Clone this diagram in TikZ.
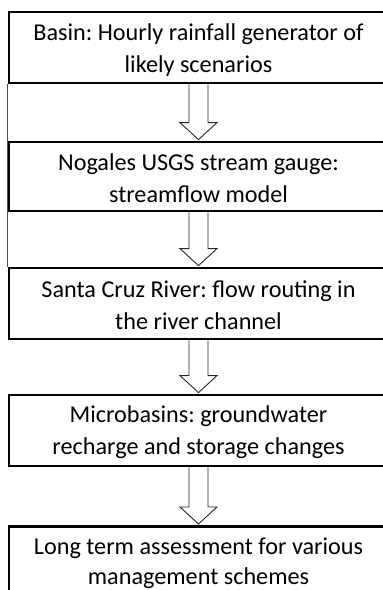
\documentclass[tikz,border=0pt]{standalone}
\usepackage{fontspec}
\setmainfont{Carlito}
\usetikzlibrary{calc}
\frenchspacing
\begin{document}
\frenchspacing
\begin{tikzpicture}[x=1pt,y=-1pt,
  box/.style={draw=black, line width=2.8pt, minimum width=379pt, inner sep=0pt},
  boxtext/.style={align=center, inner sep=0pt, font=\fontsize{24.2}{32}\selectfont},
  blockarrow/.style={draw=black!85, line width=0.9pt, fill=white, line join=miter},
  sideline/.style={draw=black!70, line width=0.8pt}]
\useasboundingbox (0,0) rectangle (383,590);
\begin{scope}
\clip (0,0) rectangle (383,590);
\node[box, minimum height=71pt] (b1) at (198.5,47.5) {};
\node[box, minimum height=69pt] (b2) at (198.5,176.5) {};
\node[box, minimum height=71pt] (b3) at (198.5,303.5) {};
\node[box, minimum height=71pt] (b4) at (198.5,430.5) {};
\node[box, minimum height=90pt, anchor=north] (b5) at (198.5,525) {};
\node[boxtext] (t1) at ($(b1.center)+(0,3)$) {Basin: Hourly rainfall generator of\\likely scenarios};
\node[boxtext] (t2) at ($(b2.center)+(0,2)$) {Nogales USGS stream gauge:\\streamflow model};
\node[boxtext] (t3) at ($(b3.center)+(0,2)$) {Santa Cruz River: flow routing in\\the river channel};
\node[boxtext] (t4) at ($(b4.center)+(0,2)$) {Microbasins: groundwater\\recharge and storage changes};
\node[boxtext, font=\fontsize{24.2}{30}\selectfont] (t5) at ($(b5.north)+(0,38)$) {Long term assessment for various\\management schemes};
\draw[sideline] (b1.south west) -- (b3.north west);
\foreach \a/\b in {b1/b2, b2/b3, b3/b4, b4/b5} {
  \draw[blockarrow]
    ($(\a.south)+(-9.5,0)$) -- ($(\b.north)+(-9.5,-18)$) -- ($(\b.north)+(-18.5,-18)$)
    -- ($(\b.north)+(0,-1)$) -- ($(\b.north)+(18.5,-18)$) -- ($(\b.north)+(9.5,-18)$)
    -- ($(\a.south)+(9.5,0)$);
}
\end{scope}
\end{tikzpicture}
\end{document}
